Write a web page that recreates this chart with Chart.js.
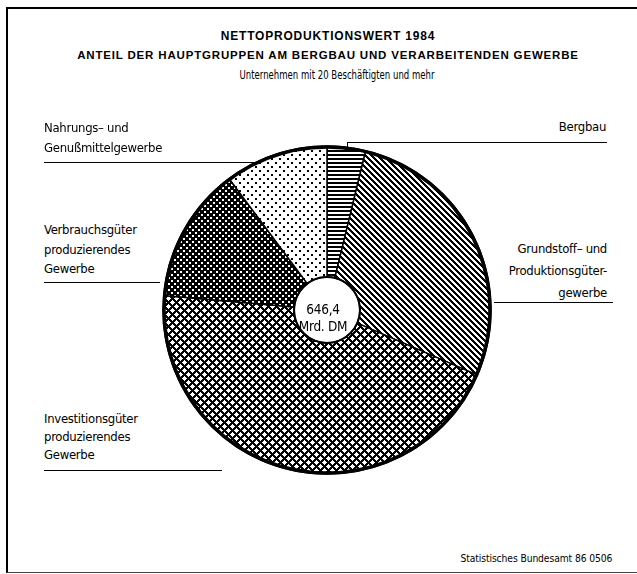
<!DOCTYPE html>
<html><head><meta charset="utf-8">
<script src="https://cdn.jsdelivr.net/npm/chart.js@4.4.1/dist/chart.umd.min.js"></script>
<style>
body{margin:0;background:#fff;width:637px;height:574px;position:relative;overflow:hidden;font-family:"DejaVu Sans Condensed","Liberation Sans Narrow",sans-serif;color:#000}
.frame{position:absolute;left:6px;top:7px;width:640px;height:563px;border-left:2px solid #000;border-top:2px solid #000;border-bottom:1px solid #444}
.t{position:absolute;white-space:nowrap;font-size:13px;letter-spacing:-0.3px}
.rule{position:absolute;height:0;border-top:1.5px solid #000}
.tick{position:absolute;width:0;border-left:1.5px solid #000}
.head{position:absolute;left:0;width:656px;text-align:center;white-space:nowrap}
#wrap{position:absolute;left:147px;top:130px;width:360px;height:360px}
</style></head><body>
<div class="frame"></div>
<div class="head" style="top:29px;font:bold 12px 'Liberation Sans',sans-serif;letter-spacing:0.8px">NETTOPRODUKTIONSWERT 1984</div>
<div class="head" style="top:49px;font:bold 11.5px 'Liberation Sans',sans-serif;letter-spacing:0.83px">ANTEIL DER HAUPTGRUPPEN AM BERGBAU UND VERARBEITENDEN GEWERBE</div>
<div class="head" style="top:67px;font-size:12.5px;left:9px;transform:scaleX(0.76)">Unternehmen mit 20 Beschäftigten und mehr</div>

<div id="wrap"><canvas id="pie"></canvas></div>

<div class="t" style="left:44px;top:118px;line-height:20px">Nahrungs– und<br>Genußmittelgewerbe</div>
<div class="rule" style="left:44px;top:162px;width:216px"></div>

<div class="t" style="right:31px;top:117px;line-height:20px">Bergbau</div>
<div class="rule" style="left:347px;top:142px;width:260px"></div>
<div class="tick" style="left:347px;top:142px;height:8px"></div>

<div class="t" style="right:30px;top:238px;line-height:22px;text-align:right">Grundstoff– und<br>Produktionsgüter-<br>gewerbe</div>
<div class="rule" style="left:494px;top:302px;width:119px"></div>

<div class="t" style="left:44px;top:220px;line-height:19.5px">Verbrauchsgüter<br>produzierendes<br>Gewerbe</div>
<div class="rule" style="left:44px;top:282px;width:116px"></div>

<div class="t" style="left:44px;top:410px;line-height:18px">Investitionsgüter<br>produzierendes<br>Gewerbe</div>
<div class="rule" style="left:44px;top:470px;width:178px"></div>

<div class="t" style="left:286px;top:301px;width:74px;text-align:center;line-height:17px;font-size:13.5px">646,4<br>Mrd. DM</div>

<div class="t" style="right:25px;top:552px;font-size:11px;letter-spacing:-0.1px;transform:scaleX(0.93);transform-origin:right">Statistisches Bundesamt 86 0506</div>

<script>
// Anteile in %, im Uhrzeigersinn ab 12 Uhr
var categories = ['Bergbau', 'Grundstoff- und Produktionsgütergewerbe', 'Investitionsgüter produzierendes Gewerbe', 'Verbrauchsgüter produzierendes Gewerbe', 'Nahrungs- und Genußmittelgewerbe'];
var shares = [3.8, 27.7, 44.9, 13.4, 10.2];

function makePattern(size, fn) {
    var c = document.createElement('canvas');
    c.width = size; c.height = size;
    var g = c.getContext('2d');
    var img = g.createImageData(size, size);
    for (var y = 0; y < size; y++) {
        for (var x = 0; x < size; x++) {
            var v = fn(x, y) ? 0 : 255;
            var i = (y * size + x) * 4;
            img.data[i] = v; img.data[i + 1] = v; img.data[i + 2] = v; img.data[i + 3] = 255;
        }
    }
    g.putImageData(img, 0, 0);
    return g.createPattern(c, 'repeat');
}

var fills = [
    makePattern(4, function (x, y) { return y % 4 < 2; }),                       // waagerecht
    makePattern(6, function (x, y) { return ((x - y) % 6 + 6) % 6 < 3; }),      // schraeg
    makePattern(8, function (x, y) { return (x + y) % 8 < 3 || ((x - y) % 8 + 8) % 8 < 3; }), // gitter
    makePattern(6, function (x, y) { return !((x % 6 < 2 && y % 6 < 2) || ((x + 3) % 6 < 2 && (y + 3) % 6 < 2)); }), // dunkel, weisse punkte
    makePattern(8, function (x, y) { return (x % 8 < 2 && y % 8 < 2) || ((x + 4) % 8 < 2 && (y + 4) % 8 < 2); }) // helle punkte
];

const rims = {
    id: 'rims',
    afterDatasetsDraw(chart) {
        const arc = chart.getDatasetMeta(0).data[0];
        const ctx = chart.ctx;
        ctx.save();
        ctx.strokeStyle = '#000';
        ctx.lineWidth = 3.5;
        ctx.beginPath();
        ctx.arc(arc.x, arc.y, arc.outerRadius - 1, 0, Math.PI * 2);
        ctx.stroke();
        ctx.lineWidth = 2;
        ctx.beginPath();
        ctx.arc(arc.x, arc.y, arc.innerRadius, 0, Math.PI * 2);
        ctx.stroke();
        ctx.restore();
    }
};

const pie = new Chart(document.getElementById('pie'), {
    type: 'doughnut',
    data: {
        labels: categories,
        datasets: [{
            data: shares,
            backgroundColor: fills,
            borderColor: '#000',
            borderWidth: 1.5,
            hoverOffset: 0,
            radius: 164,
            cutout: 36
        }]
    },
    options: {
        responsive: true,
        maintainAspectRatio: false,
        animation: false,
        events: [],
        plugins: { legend: { display: false }, tooltip: { enabled: false } }
    },
    plugins: [rims]
});
</script>
</body></html>
